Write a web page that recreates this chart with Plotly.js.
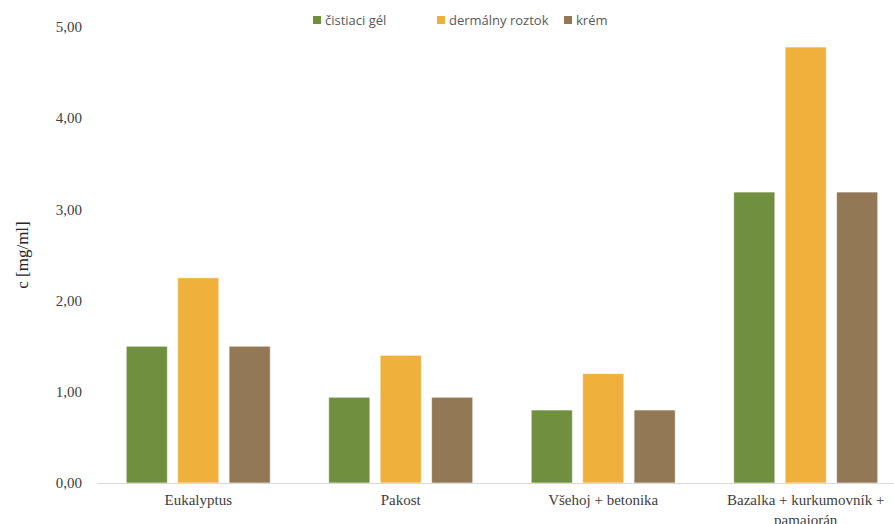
<!DOCTYPE html>
<html>
<head>
<meta charset="utf-8">
<script src="https://cdn.plot.ly/plotly-3.0.1.min.js"></script>
<style>html,body{margin:0;padding:0;background:#fff;}#chart{width:894px;height:524px;}</style>
</head>
<body>
<div id="chart"></div>
<script>
const categories = ["Eukalyptus", "Pakost", "Všehoj + betonika", "Bazalka + kurkumovník +<br>pamajorán"];
const seriesNames = ["čistiaci gél", "dermálny roztok", "krém"];
const cistiaciGel = [1.50, 0.94, 0.80, 3.19];
const dermalnyRoztok = [2.25, 1.40, 1.20, 4.78];
const krem = [1.50, 0.94, 0.80, 3.19];
const colors = ["#71903f", "#efb13c", "#937856"];
const yTickVals = [0, 1, 2, 3, 4, 5];
const yTickText = ["0,00", "1,00", "2,00", "3,00", "4,00", "5,00"];

const allSeries = [cistiaciGel, dermalnyRoztok, krem];
const traces = allSeries.map((vals, i) => ({
  type: "bar",
  name: seriesNames[i],
  x: categories,
  y: vals,
  marker: {color: colors[i], line: {color: "#ffffff", width: 0.6}},
  hoverinfo: "skip",
  showlegend: false
}));

// Legend drawn with paper-referenced shapes and annotations
const M = {l: 97, r: 0, t: 27, b: 41};
const W = 894, H = 524;
const PW = W - M.l - M.r, PH = H - M.t - M.b;
const px2x = p => (p - M.l) / PW;
const py2y = p => 1 + (M.t - p) / PH;
const legendSquareLeft = [313, 437, 564];
const legendCenterY = 20;
const shapes = [], annotations = [];
seriesNames.forEach((name, i) => {
  const x0 = legendSquareLeft[i];
  shapes.push({type: "rect", xref: "paper", yref: "paper",
    x0: px2x(x0), x1: px2x(x0 + 8), y0: py2y(legendCenterY + 4), y1: py2y(legendCenterY - 4),
    fillcolor: colors[i], line: {width: 0}});
  annotations.push({xref: "paper", yref: "paper", x: px2x(x0 + 10), y: py2y(legendCenterY),
    xanchor: "left", yanchor: "middle", showarrow: false, text: name,
    font: {family: "Open Sans, Liberation Sans, sans-serif", size: 13, color: "#595959"}});
});

const serif = "Liberation Serif, Times New Roman, serif";
const layout = {
  width: W, height: H,
  margin: M,
  paper_bgcolor: "#ffffff", plot_bgcolor: "#ffffff",
  barmode: "group", bargap: 0.238, bargroupgap: 0.2,
  showlegend: false,
  shapes: shapes, annotations: annotations,
  xaxis: {
    type: "category", range: [-0.5, 3.436],
    showgrid: false, zeroline: false,
    showline: true, linecolor: "#d9d9d9", linewidth: 1,
    ticks: "", tickfont: {family: serif, size: 15, color: "#404040"},
    ticklabelstandoff: 3,
    fixedrange: true, automargin: false
  },
  yaxis: {
    range: [0, 5], showgrid: false, zeroline: false, showline: false,
    tickvals: yTickVals, ticktext: yTickText, ticks: "",
    tickfont: {family: serif, size: 15, color: "#404040"},
    ticklabelstandoff: 14,
    title: {text: "c [mg/ml]", font: {family: serif, size: 17, color: "#262626"}, standoff: 22},
    automargin: false, fixedrange: true
  }
};

Plotly.newPlot("chart", traces, layout, {displayModeBar: false, staticPlot: true});
</script>
</body>
</html>
